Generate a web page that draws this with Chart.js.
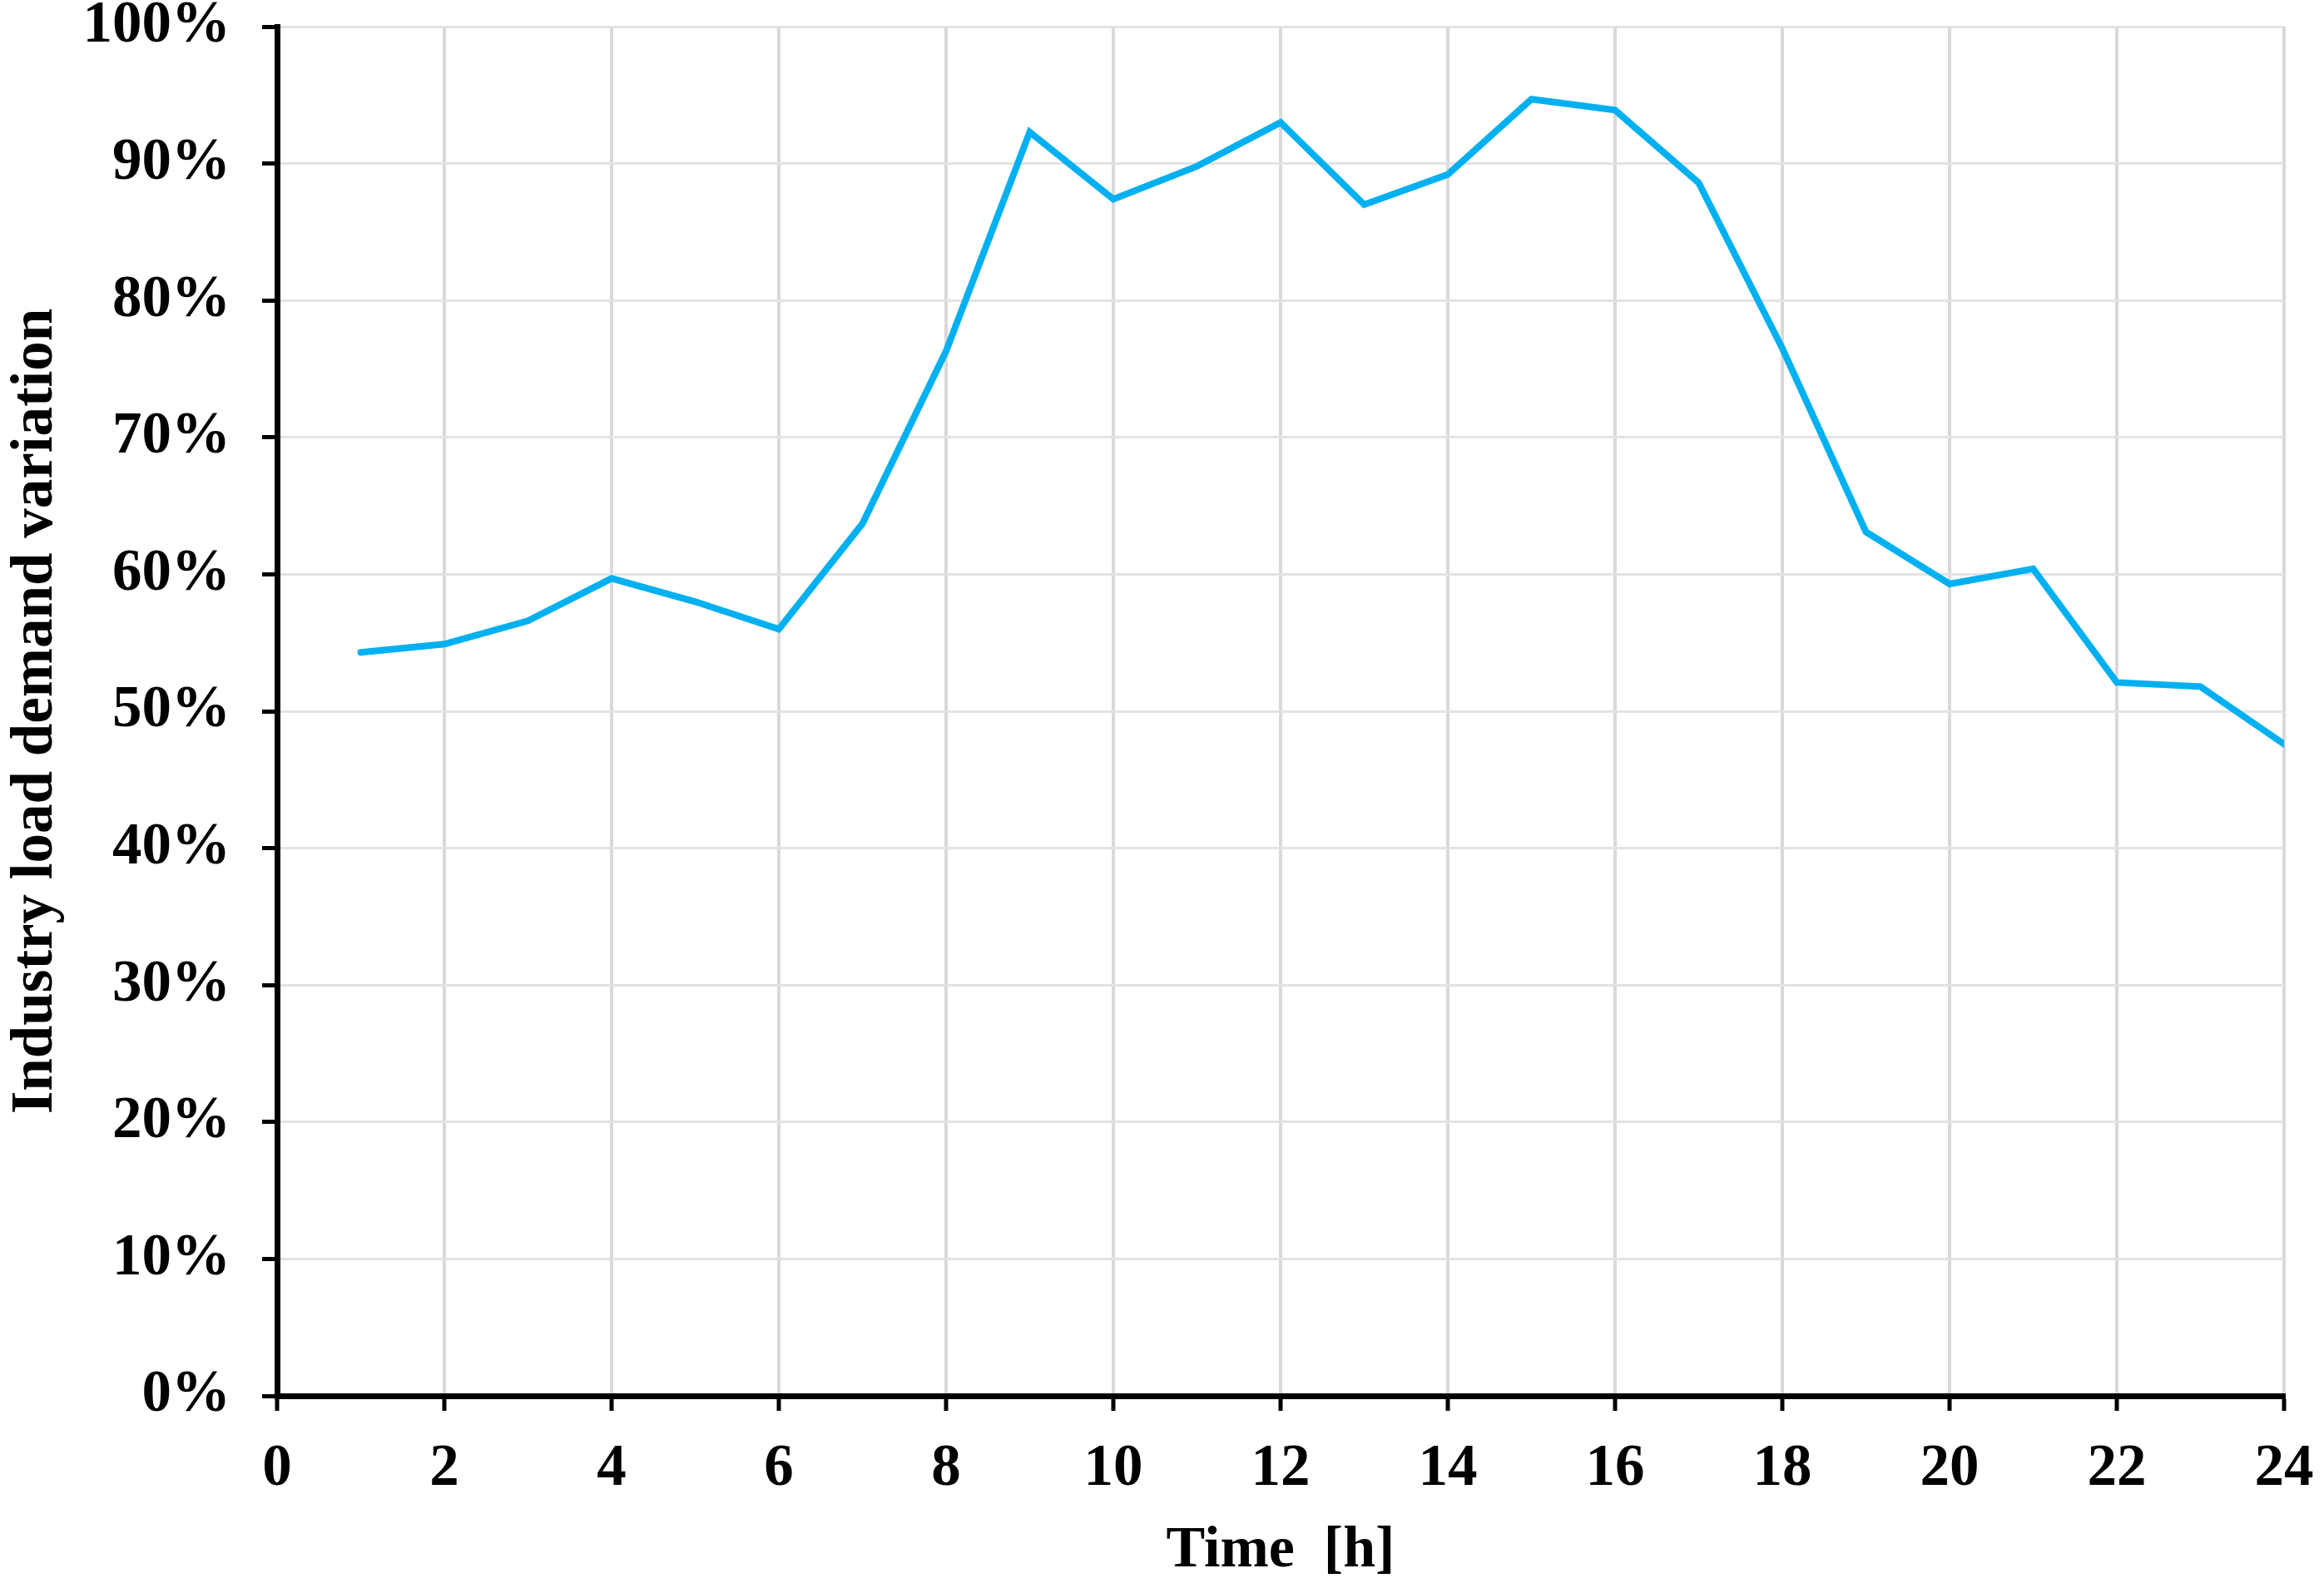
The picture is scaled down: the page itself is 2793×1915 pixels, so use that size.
<!DOCTYPE html>
<html>
<head>
<meta charset="utf-8">
<script src="https://cdn.jsdelivr.net/npm/chart.js@4/dist/chart.umd.min.js"></script>
<style>
  html, body { margin: 0; padding: 0; background: #ffffff; }
  #wrap { width: 2793px; height: 1915px; }
</style>
</head>
<body>
<div id="wrap"><canvas id="c" width="2793" height="1915"></canvas></div>
<script>
// Data
const hours = [1, 2, 3, 4, 5, 6, 7, 8, 9, 10, 11, 12, 13, 14, 15, 16, 17, 18, 19, 20, 21, 22, 23, 24];
const loadPercent = [54.3, 54.9, 56.6, 59.7, 58.0, 56.0, 63.7, 76.3, 92.3, 87.4, 89.8, 93.0, 87.0, 89.2, 94.7, 93.9, 88.6, 76.5, 63.1, 59.3, 60.4, 52.1, 51.8, 47.6];
const xTitle = 'Time  [h]';
const yTitle = 'Industry load demand variation';

const points = hours.map((h, i) => ({ x: h, y: loadPercent[i] }));
const FONT = '"Liberation Serif", "Times New Roman", Times, serif';

function zeroPad(s) {
  s.paddingTop = 0; s.paddingBottom = 0; s.paddingLeft = 0; s.paddingRight = 0;
}

new Chart(document.getElementById('c'), {
  type: 'line',
  data: {
    datasets: [{
      data: points,
      borderColor: '#00B0F0',
      borderWidth: 8,
      pointRadius: 0,
      tension: 0,
      borderCapStyle: 'round',
      borderJoinStyle: 'miter',
      fill: false
    }]
  },
  options: {
    responsive: false,
    devicePixelRatio: 1,
    animation: false,
    layout: { padding: { left: 0, right: 48, top: 32, bottom: 0 } },
    plugins: { legend: { display: false }, tooltip: { enabled: false } },
    scales: {
      x: {
        type: 'linear',
        min: 0,
        max: 24,
        afterFit: (s) => { s.height = 237; zeroPad(s); },
        ticks: {
          stepSize: 2,
          color: '#000000',
          padding: 28,
          font: { family: FONT, size: 71, weight: 'bold', lineHeight: 1.2 }
        },
        grid: {
          color: '#d9d9d9',
          lineWidth: 4,
          drawTicks: true,
          tickLength: 18,
          tickWidth: 5,
          tickColor: '#000000'
        },
        border: { color: '#000000', width: 7 },
        title: {
          display: true,
          text: xTitle,
          color: '#000000',
          padding: { top: 0, bottom: 8 },
          font: { family: FONT, size: 70, weight: 'bold', lineHeight: 1.2 }
        }
      },
      y: {
        type: 'linear',
        min: 0,
        max: 100,
        afterFit: (s) => { s.width = 333; zeroPad(s); },
        ticks: {
          stepSize: 10,
          color: '#000000',
          padding: 38,
          callback: (v) => v + '%',
          font: { family: FONT, size: 71, weight: 'bold', lineHeight: 0.9 }
        },
        grid: {
          color: '#e3e3e3',
          lineWidth: 3,
          drawTicks: true,
          tickLength: 18,
          tickWidth: 5,
          tickColor: '#000000'
        },
        border: { color: '#000000', width: 7 },
        title: {
          display: true,
          text: yTitle,
          color: '#000000',
          padding: { top: 1, bottom: 0 },
          font: { family: FONT, size: 71, weight: 'bold', lineHeight: 1.2 }
        }
      }
    }
  }
});
</script>
</body>
</html>
